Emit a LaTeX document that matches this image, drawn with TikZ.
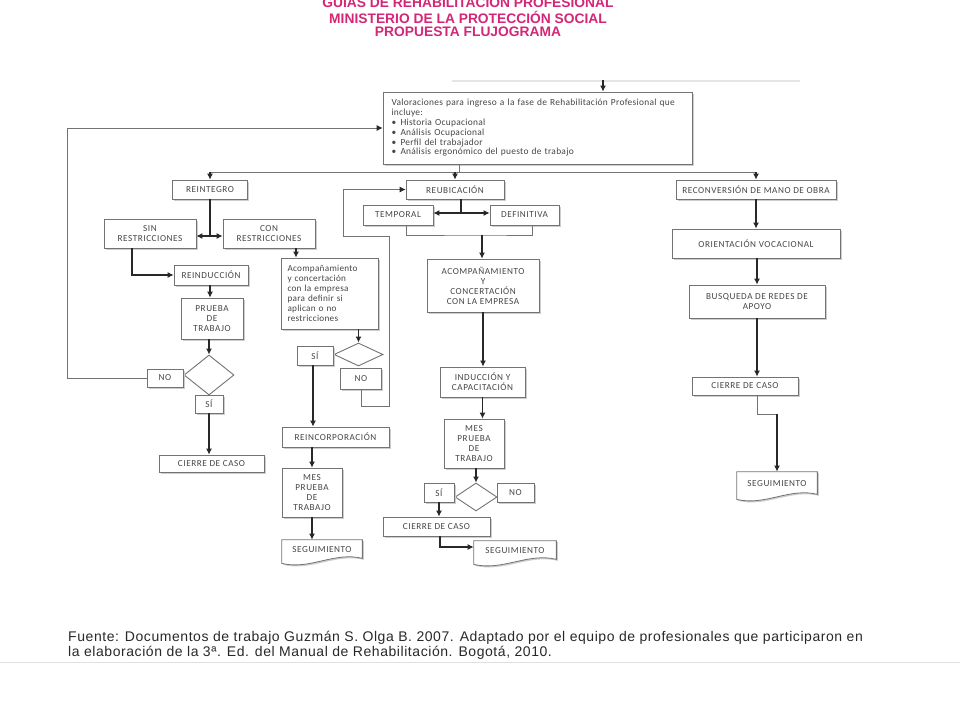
\documentclass[tikz,border=0pt]{standalone}
\usepackage{fontspec}
\usetikzlibrary{calc, arrows.meta, shapes.geometric, shadows, backgrounds}

\newfontfamily\letracaja[LetterSpace=6]{Carlito}
\newfontfamily\letratexto[LetterSpace=3]{Carlito}
\newfontfamily\letratitulo{Liberation Sans}
\newfontfamily\letrafuente[LetterSpace=4]{Liberation Sans}

\definecolor{rosa}{RGB}{212,38,118}
\definecolor{gris}{RGB}{115,115,115}
\definecolor{trazo}{RGB}{40,40,40}
\definecolor{texto}{RGB}{70,70,70}
\definecolor{sombra}{RGB}{205,205,205}

\begin{document}
\begin{tikzpicture}[x=1pt,y=-1pt]
\tikzset{>={Latex[length=6pt,width=6pt]}}
\tikzset{
  cajabase/.style={draw=gris, fill=white, line width=0.7pt, text=texto, inner sep=1pt,
    align=center, font=\letracaja\fontsize{9.2}{10}\selectfont},
  caja/.style={cajabase,
    drop shadow={shadow xshift=1.5pt, shadow yshift=-1.5pt, fill=sombra, opacity=1}},
  rombo/.style={diamond, draw=gris, fill=white, line width=0.9pt, inner sep=0pt},
  hojacaja/.style={cajabase, draw=none, fill=none},
  flecha/.style={->, line width=1.6pt, draw=trazo},
  linea/.style={line width=0.8pt, draw=gris},
  retorno/.style={linea, -{Latex[length=6pt,width=6pt,color=trazo]}},
  titulo/.style={text=rosa, font=\letratitulo\bfseries\fontsize{13.8}{14}\selectfont, inner sep=0pt},
  fuente/.style={text=trazo, font=\letrafuente\fontsize{14}{15}\selectfont, inner sep=0pt, anchor=west}
}
\newcommand{\hoja}[2]{%
  \begin{scope}[on background layer]
    \draw[linea, fill=white, drop shadow={shadow xshift=1.5pt, shadow yshift=-1.5pt, fill=sombra, opacity=1}]
      (#1.north west) -- (#1.north east) -- ([yshift=2pt]#1.south east)
      .. controls +(-0.35*#2,-7) and +(0.35*#2,7) .. ([yshift=-3pt]#1.south west) -- cycle;
  \end{scope}}

\useasboundingbox (0,0) rectangle (960,720);

% cabecera
\node[titulo] (tit1) at (468,2.5) {GUIAS DE REHABILITACION PROFESIONAL};
\node[titulo] (tit2) at (468,17.5) {MINISTERIO DE LA PROTECCIÓN SOCIAL};
\node[titulo] (tit3) at (468,32) {PROPUESTA FLUJOGRAMA};

% caja principal
\node[caja, minimum width=309, minimum height=72, text width=292, align=left,
  font=\letratexto\fontsize{9.4}{9.8}\selectfont] (main) at (537.5,128)
  {Valoraciones para ingreso a la fase de Rehabilitación Profesional que\\
   incluye:\\
   \makebox[9pt][l]{•}Historia Ocupacional\\
   \makebox[9pt][l]{•}Análisis Ocupacional\\
   \makebox[9pt][l]{•}Perfil del trabajador\\
   \makebox[9pt][l]{•}Análisis ergonómico del puesto de trabajo};

% rama reintegro
\node[caja, minimum width=75, minimum height=19] (reintegro) at (210,189.5) {REINTEGRO};
\node[caja, minimum width=92, minimum height=29] (sinr) at (150,233.5) {SIN\\RESTRICCIONES};
\node[caja, minimum width=92, minimum height=29] (conr) at (269,233.5) {CON\\RESTRICCIONES};
\node[caja, minimum width=74, minimum height=20] (reinduccion) at (211,275) {REINDUCCIÓN};
\node[caja, minimum width=62, minimum height=41] (prueba) at (212,318.5) {PRUEBA\\DE\\TRABAJO};
\node[rombo, minimum width=50, minimum height=40] (dec1) at (209,375) {};
\node[caja, minimum width=36, minimum height=18] (no1) at (165,378) {NO};
\node[caja, minimum width=28, minimum height=18] (si1) at (209,404) {SÍ};
\node[caja, minimum width=105, minimum height=17] (cierre1) at (211.5,463.5) {CIERRE DE CASO};

% con restricciones
\node[caja, minimum width=97, minimum height=71, text width=84, align=left,
  font=\letratexto\fontsize{9.2}{10}\selectfont] (acomp1) at (329.5,293.5)
  {Acompañamiento\\y concertación\\con la empresa\\para definir si\\aplican o no\\restricciones};
\node[rombo, minimum width=49, minimum height=23] (dec2) at (358.5,354.5) {};
\node[caja, minimum width=36, minimum height=19] (si2) at (315,355.5) {SÍ};
\node[caja, minimum width=41, minimum height=21] (no2) at (361,378.5) {NO};
\node[caja, minimum width=107, minimum height=20] (reincorp) at (335.5,437) {REINCORPORACIÓN};
\node[caja, minimum width=60, minimum height=49] (mes1) at (312,492.5) {MES\\PRUEBA\\DE\\TRABAJO};
\node[hojacaja, minimum width=80, minimum height=20] (seg1) at (322,550) {SEGUIMIENTO};
\hoja{seg1}{80}

% rama reubicacion
\node[caja, minimum width=98, minimum height=19] (reubicacion) at (455,189.5) {REUBICACIÓN};
\node[caja, minimum width=70, minimum height=20] (temporal) at (398,215) {TEMPORAL};
\node[caja, minimum width=69, minimum height=20] (definitiva) at (524.5,215) {DEFINITIVA};
\node[caja, minimum width=112, minimum height=53] (acomp2) at (483,285.5) {ACOMPAÑAMIENTO\\Y\\CONCERTACIÓN\\CON LA EMPRESA};
\node[caja, minimum width=85, minimum height=30] (induccion) at (482.5,382) {INDUCCIÓN Y\\CAPACITACIÓN};
\node[caja, minimum width=60, minimum height=49] (mes2) at (474,443.5) {MES\\PRUEBA\\DE\\TRABAJO};
\node[rombo, minimum width=42, minimum height=28] (dec3) at (476,497) {};
\node[caja, minimum width=30, minimum height=19] (si3) at (439,492.5) {SÍ};
\node[caja, minimum width=37, minimum height=19] (no3) at (515.5,492.5) {NO};
\node[caja, minimum width=107, minimum height=19] (cierre2) at (436.5,526.5) {CIERRE DE CASO};
\node[hojacaja, minimum width=82, minimum height=20] (seg2) at (515,551) {SEGUIMIENTO};
\hoja{seg2}{82}

% rama reconversion
\node[caja, minimum width=160, minimum height=19] (reconversion) at (756,189.5) {RECONVERSIÓN DE MANO DE OBRA};
\node[caja, minimum width=168, minimum height=29] (orientacion) at (756,243.5) {ORIENTACIÓN VOCACIONAL};
\node[caja, minimum width=136, minimum height=33] (busqueda) at (757,301.5) {BUSQUEDA DE REDES DE\\APOYO};
\node[caja, minimum width=106, minimum height=18] (cierre3) at (745,386) {CIERRE DE CASO};
\node[hojacaja, minimum width=80, minimum height=24] (seg3) at (777,484) {SEGUIMIENTO};
\hoja{seg3}{80}

% fuente
\node[fuente] (fuente1) at (68,638) {Fuente: Documentos de trabajo Guzmán S. Olga B. 2007. Adaptado por el equipo de profesionales que participaron en};
\node[fuente] (fuente2) at (68,653) {la elaboración de la 3ª. Ed. del Manual de Rehabilitación. Bogotá, 2010.};
\draw[black!12, line width=1pt] (0,662) -- (960,662);

% conectores
\coordinate (entrada) at (603,80);
\coordinate (rama) at (459,172);
\coordinate (izq) at (67,378);
\coordinate (bif1) at (210,236);
\coordinate (bif2) at (461,213);
\coordinate (bif3) at (482,235);
\coordinate (v1) at (389,406);
\coordinate (v2) at (343,236);
\coordinate (q) at (777,414);

\draw[black!10, line width=2pt] (452,81) -- (800,81);
\draw[flecha] (entrada) -- (entrada |- main.north);
\draw[linea] (rama |- main.south) -- (rama);
\draw[linea] (reintegro.north |- rama) -- (reconversion.north |- rama);
\draw[flecha] (reintegro.north |- rama) -- (reintegro.north);
\draw[flecha] (reubicacion.north |- rama) -- (reubicacion.north);
\draw[flecha] (reconversion.north |- rama) -- (reconversion.north);

\draw[flecha, -] (reintegro.south) -- (bif1);
\draw[flecha, <->] (sinr.east |- bif1) -- (conr.west |- bif1);
\draw[flecha] ([xshift=-18pt]sinr.south) |- (reinduccion.west);
\draw[flecha] (reinduccion.south -| prueba.north) ++(-2,0) -- ([xshift=-2pt]prueba.north);
\draw[flecha] (dec1.north |- prueba.south) -- (dec1.north);
\draw[flecha] (si1.south) -- (si1.south |- cierre1.north);
\draw[retorno] (no1.west) -- (izq) |- (main.west);

\draw[flecha] ([xshift=27pt]conr.south) -- ([xshift=27pt]conr.south |- acomp1.north);
\draw[flecha] (dec2.north |- acomp1.south) -- (dec2.north);
\draw[flecha] ([xshift=-2pt]si2.south) -- ([xshift=-2pt]si2.south |- reincorp.north);
\draw[flecha] (mes1.north |- reincorp.south) -- (mes1.north);
\draw[flecha] (mes1.south) -- (mes1.south |- seg1.north);
\draw[retorno] (no2.south) |- (v1) -- (v1 |- v2) -- (v2) |- (reubicacion.west);

\draw[flecha, -] (reubicacion.south -| bif2) -- (bif2);
\draw[flecha, <->] (temporal.east |- bif2) -- (definitiva.west |- bif2);
\draw[linea] ([xshift=8pt]temporal.south) |- (bif3) -| ([xshift=7.5pt]definitiva.south);
\draw[flecha] (bif3) -- (bif3 |- acomp2.north);
\draw[flecha] (acomp2.south) -- (acomp2.south |- induccion.north);
\draw[flecha] (induccion.south) -- (induccion.south |- mes2.north);
\draw[flecha] (dec3.north |- mes2.south) -- (dec3.north);
\draw[flecha] (si3.south) -- (si3.south |- cierre2.north);
\draw[flecha, line width=1.1pt] ([xshift=3.5pt]cierre2.south) |- ([yshift=4pt]seg2.west);

\draw[flecha] (reconversion.south -| orientacion.north) -- (orientacion.north);
\draw[flecha] (orientacion.south -| busqueda.north) -- (busqueda.north);
\draw[flecha] (busqueda.south) -- (busqueda.south |- cierre3.north);
\draw[linea] ([xshift=12pt]cierre3.south) |- (q);
\draw[flecha] (q) -- (q |- seg3.north);
\end{tikzpicture}
\end{document}
